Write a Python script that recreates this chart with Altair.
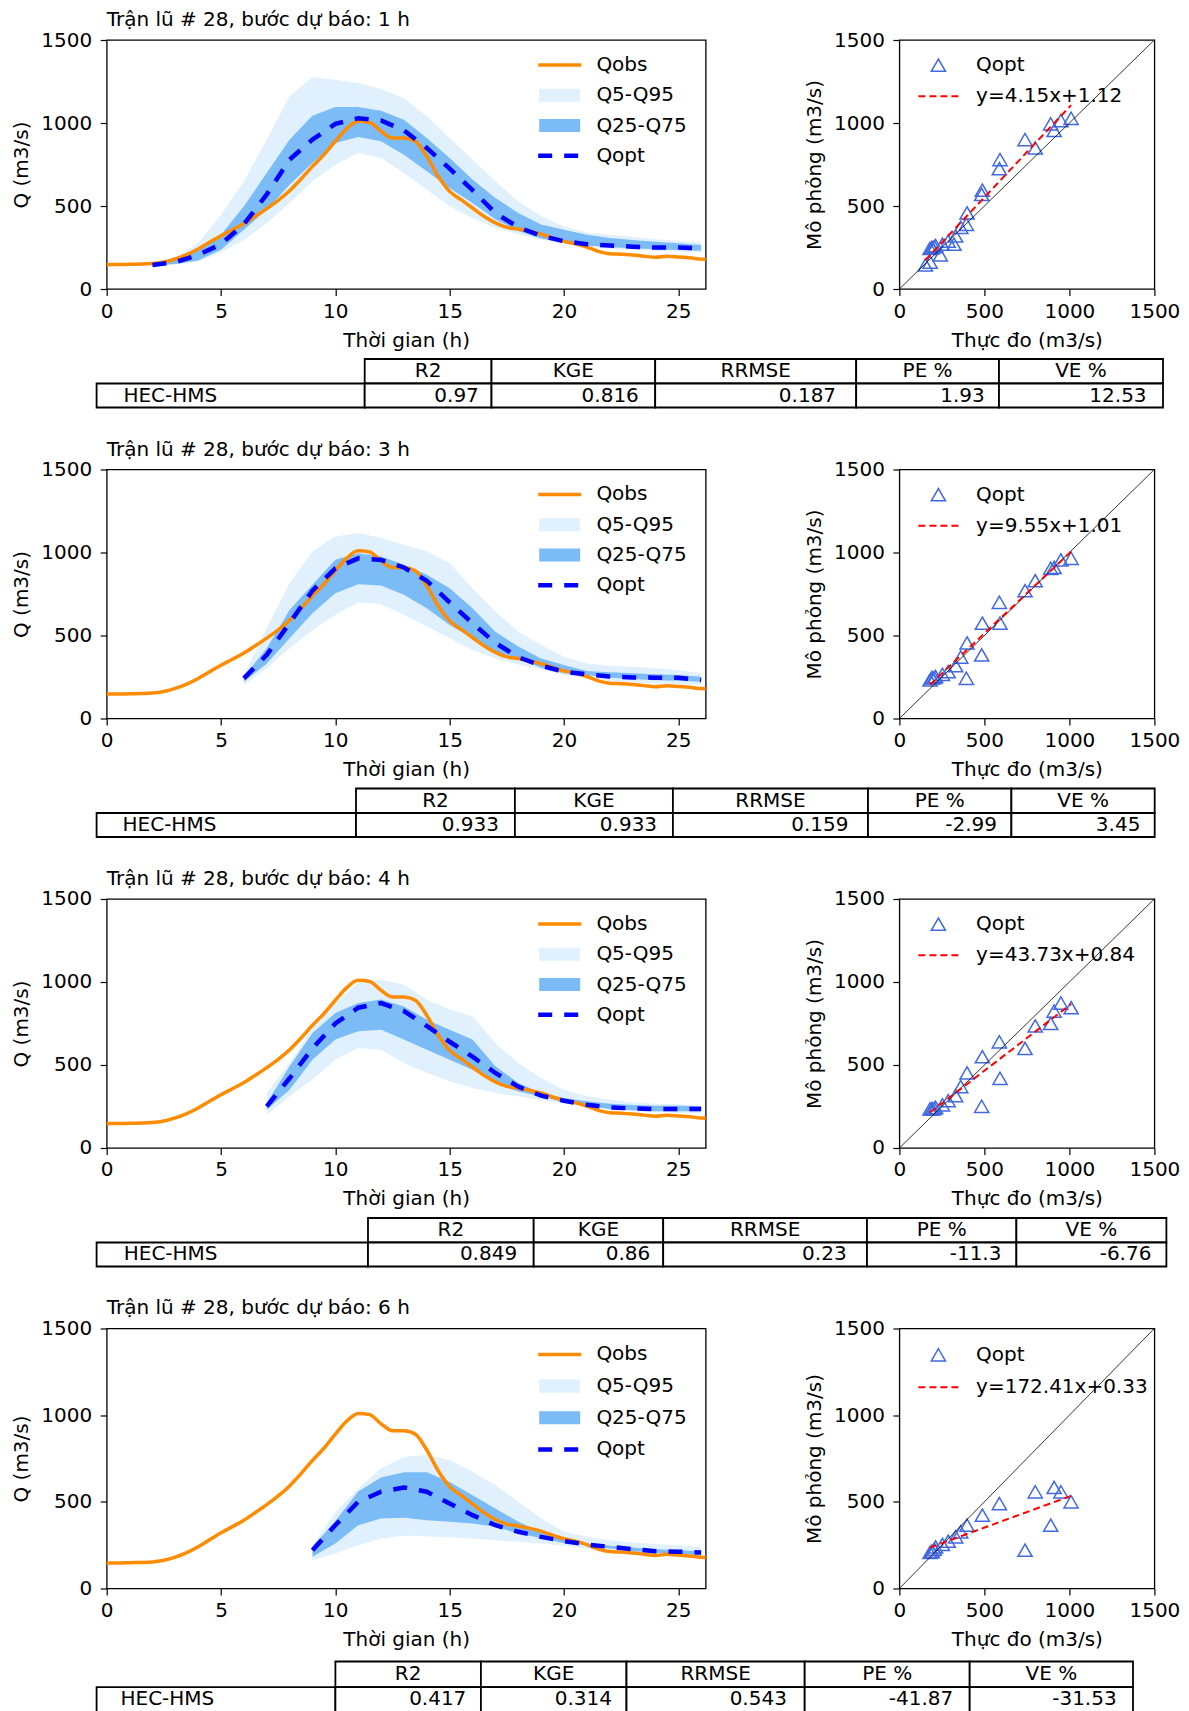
import math
import altair as alt
import pandas as pd

FONT = "DejaVu Sans"
FS = 20

# ---------------- data ----------------
EVENT = 28
LEADS = [1, 3, 4, 6]

OBS_T = [0, 0.5, 1, 1.5, 2, 2.5, 3, 3.5, 4, 4.5, 5, 5.5, 6, 6.5, 7, 7.5, 8, 8.5, 9, 9.5,
         10, 10.5, 11, 11.5, 12, 12.5, 13, 13.5, 14, 14.5, 15, 15.5, 16, 16.5, 17, 17.5,
         18, 18.5, 19, 19.5, 20, 20.5, 21, 21.5, 22, 22.5, 23, 23.5, 24, 24.5, 25, 25.5, 26, 26.2]
OBS_Q = [147, 147, 149, 150, 153, 163, 181, 207, 241, 281, 321, 357, 394, 438, 484, 534, 592, 663,
         739, 809, 890, 966, 1010, 1003, 950, 910, 910, 890, 799, 679, 588, 538, 488, 438, 398, 371,
         361, 347, 331, 307, 287, 273, 253, 227, 213, 210, 205, 198, 191, 197, 193, 188, 180, 179]

OPT_START = [2, 6, 7, 9]   # first hour of each forecast series (hourly to 26 h)

QOPT = [
    [145, 162, 205, 270, 390, 570, 780, 900, 995, 1028, 1015, 955, 850, 725, 595, 458, 372, 320, 288, 270, 262, 255, 250, 250, 245],
    [242, 383, 575, 770, 905, 965, 955, 910, 830, 700, 574, 455, 370, 318, 282, 266, 253, 247, 246, 245, 232],
    [251, 420, 600, 750, 845, 873, 825, 735, 640, 550, 452, 370, 315, 285, 260, 245, 238, 235, 235, 235],
    [221, 365, 500, 558, 583, 558, 490, 423, 365, 327, 298, 273, 254, 240, 227, 215, 212, 208],
]
Q95 = [
    [155, 190, 277, 448, 649, 900, 1161, 1275, 1261, 1241, 1205, 1151, 1040, 910, 779, 649, 528, 438, 378, 341, 327, 315, 300, 290, 280],
    [262, 544, 815, 1007, 1097, 1117, 1087, 1047, 1007, 936, 785, 644, 523, 443, 372, 332, 318, 312, 302, 292, 272],
    [331, 512, 720, 873, 994, 1014, 984, 894, 834, 793, 632, 512, 422, 351, 311, 291, 275, 267, 263, 255],
    [250, 440, 577, 692, 760, 769, 740, 673, 596, 500, 404, 327, 298, 279, 265, 256, 250, 240],
]
Q5 = [
    [138, 148, 165, 221, 293, 398, 518, 649, 749, 819, 789, 699, 598, 498, 428, 367, 330, 298, 272, 255, 243, 236, 231, 226, 221],
    [201, 302, 423, 533, 624, 700, 688, 624, 554, 483, 413, 362, 326, 298, 262, 246, 225, 217, 211, 207, 205],
    [201, 311, 412, 532, 602, 592, 512, 452, 402, 361, 331, 311, 287, 271, 251, 231, 221, 215, 211, 211],
    [163, 202, 250, 288, 304, 302, 294, 288, 279, 269, 260, 246, 231, 215, 202, 192, 188, 183],
]
Q75 = [
    [151, 181, 237, 327, 498, 699, 900, 1044, 1096, 1096, 1074, 1020, 910, 789, 659, 548, 458, 388, 357, 327, 307, 295, 285, 275, 265],
    [252, 423, 654, 805, 956, 996, 976, 926, 866, 785, 664, 523, 433, 362, 322, 286, 278, 272, 266, 262, 252],
    [271, 492, 693, 813, 873, 894, 853, 773, 713, 653, 492, 392, 331, 301, 281, 267, 259, 255, 255, 251],
    [240, 390, 560, 640, 670, 670, 615, 538, 462, 385, 327, 285, 260, 246, 237, 227, 221, 215],
]
Q25 = [
    [141, 151, 171, 237, 357, 478, 628, 759, 880, 916, 890, 809, 709, 608, 518, 420, 350, 305, 278, 262, 252, 245, 240, 235, 230],
    [221, 332, 483, 634, 755, 809, 801, 745, 664, 564, 483, 403, 362, 305, 272, 262, 246, 238, 231, 227, 221],
    [231, 351, 532, 653, 703, 713, 653, 592, 532, 472, 392, 341, 311, 275, 255, 235, 227, 221, 221, 221],
    [183, 260, 365, 404, 408, 394, 385, 375, 356, 318, 290, 262, 250, 231, 215, 206, 200, 192],
]

FIT_LABELS = ["y=4.15x+1.12", "y=9.55x+1.01", "y=43.73x+0.84", "y=172.41x+0.33"]
DIAG = [0, 1500]

MODEL = "HEC-HMS"
METRIC_NAMES = ["R2", "KGE", "RRMSE", "PE %", "VE %"]
METRICS = [
    [0.97, 0.816, 0.187, 1.93, 12.53],
    [0.933, 0.933, 0.159, -2.99, 3.45],
    [0.849, 0.86, 0.23, -11.3, -6.76],
    [0.417, 0.314, 0.543, -41.87, -31.53],
]

# ---------------- style / layout ----------------
C_OBS = "#ff8c00"
C_Q5 = "#e0f0fd"
C_Q25 = "#7bbcf7"
C_OPT = "#0000ff"
C_PT = "#4169e1"
C_FIT = "#ff0000"
RECT = "M-1,-0.32H1V0.32H-1Z"

TS_W = 599
SC_W = 255
PLOT_H = [249, 249, 249, 260]
TABLE_EDGES = [
    [-10.1, 258, 384.8, 548.5, 749.5, 892.3, 1056.3],
    [-10.1, 249.3, 408.2, 566.2, 761.3, 904.7, 1048],
    [-10.1, 261.3, 427, 556.5, 760.3, 909.7, 1059.7],
    [-10.1, 228.7, 374.2, 519.8, 698, 863, 1026.3],
]
TABLE_Y = [(70, 94.5, 118.5), (70, 94.5, 118.5), (70, 94.5, 118.5), (73, 98.6, 123.3)]
TICKS = [0, 500, 1000, 1500]


def leg(xc, yc, lx, size, sw, stype, dash=None):
    cell = max(math.ceil(math.sqrt(size) + sw), FS)
    kw = dict(orient="none", legendX=xc - cell / 2, legendY=yc - cell / 2,
              symbolType=stype, symbolSize=size, symbolStrokeWidth=sw,
              labelOffset=lx - xc - cell / 2, padding=0, title=None, labelLimit=0,
              labelFont=FONT, labelFontSize=FS, labelColor="black")
    if dash:
        kw["symbolDash"] = dash
    return alt.Legend(**kw)


def ts_chart(i):
    H = PLOT_H[i]
    hrs = list(range(OPT_START[i], 27))
    sim = pd.DataFrame({"t": hrs, "qopt": QOPT[i], "q5": Q5[i], "q95": Q95[i],
                        "q25": Q25[i], "q75": Q75[i]})
    sim["b1"] = "Q5-Q95"
    sim["b2"] = "Q25-Q75"
    sim["s"] = "Qopt"
    obs = pd.DataFrame({"t": OBS_T, "q": OBS_Q})
    obs["s"] = "Qobs"

    xs = alt.Scale(domain=[0, 26.2], nice=False, zero=False)
    ys = alt.Scale(domain=[0, 1500], nice=False)
    xax = alt.Axis(values=[0, 5, 10, 15, 20, 25], title="Thời gian (h)", format="d")
    yax = alt.Axis(values=TICKS, title="Q (m3/s)", format="d")

    def X(f):
        return alt.X(f, scale=xs, axis=xax)

    def Y(f):
        return alt.Y(f, scale=ys, axis=yax)

    SX, LX = 453, 489.7

    def yc(k):
        return H * (0.1 + 0.1217 * k)

    a5 = alt.Chart(sim).mark_area(opacity=1).encode(
        x=X("t:Q"), y=Y("q5:Q"), y2=alt.Y2("q95:Q"),
        fill=alt.Fill("b1:N", scale=alt.Scale(domain=["Q5-Q95"], range=[C_Q5]),
                      legend=leg(SX, yc(1), LX, 1681, 0, RECT)))
    a25 = alt.Chart(sim).mark_area(opacity=1).encode(
        x=X("t:Q"), y=Y("q25:Q"), y2=alt.Y2("q75:Q"),
        fill=alt.Fill("b2:N", scale=alt.Scale(domain=["Q25-Q75"], range=[C_Q25]),
                      legend=leg(SX, yc(2), LX, 1681, 0, RECT)))
    lo = alt.Chart(obs).mark_line(strokeWidth=3.5, interpolate="monotone").encode(
        x=X("t:Q"), y=Y("q:Q"),
        stroke=alt.Stroke("s:N", scale=alt.Scale(domain=["Qobs"], range=[C_OBS]),
                          legend=leg(SX, yc(0), LX, 1849, 3.5, "stroke")))
    lp = alt.Chart(sim).mark_line(strokeWidth=4.5, strokeDash=[14, 12]).encode(
        x=X("t:Q"), y=Y("qopt:Q"),
        stroke=alt.Stroke("s:N", scale=alt.Scale(domain=["Qopt"], range=[C_OPT]),
                          legend=leg(SX, yc(3), LX, 1849, 4.5, "stroke", [14, 12])))
    plot = alt.layer(a5, a25, lo, lp).resolve_scale(fill="independent", stroke="independent")

    # table drawn below the plot
    e = TABLE_EDGES[i]
    y0, y1, y2 = TABLE_Y[i]
    cells = [{"x": e[c + 1], "x2": e[c + 2], "y": y0, "y2": y1} for c in range(5)]
    cells += [{"x": e[c], "x2": e[c + 1], "y": y1, "y2": y2} for c in range(6)]
    heads = [{"x": (e[c + 1] + e[c + 2]) / 2, "y": (y0 + y1) / 2, "txt": METRIC_NAMES[c]} for c in range(5)]
    labs = [{"x": e[0] + 0.1 * (e[1] - e[0]), "y": (y1 + y2) / 2, "txt": MODEL}]
    vals = [{"x": e[c + 2] - 0.1 * (e[c + 2] - e[c + 1]), "y": (y1 + y2) / 2,
             "txt": str(METRICS[i][c])} for c in range(5)]
    tx = alt.Scale(domain=[0, TS_W], nice=False, zero=False)
    ty = alt.Scale(domain=[0, -H], nice=False, zero=False)
    rects = alt.Chart(pd.DataFrame(cells)).mark_rect(fill="white", stroke="black", strokeWidth=1.8).encode(
        x=alt.X("x:Q", scale=tx, axis=None), x2="x2:Q",
        y=alt.Y("y:Q", scale=ty, axis=None), y2="y2:Q")

    def txt(df, align):
        return alt.Chart(pd.DataFrame(df)).mark_text(
            align=align, baseline="middle", font=FONT, fontSize=FS, color="black").encode(
            x=alt.X("x:Q", scale=tx, axis=None), y=alt.Y("y:Q", scale=ty, axis=None), text="txt:N")

    table = alt.layer(rects, txt(heads, "center"), txt(labs, "left"), txt(vals, "right"))

    title = f"Trận lũ # {EVENT}, bước dự báo: {LEADS[i]} h"
    return alt.layer(plot, table).resolve_scale(x="independent", y="independent").properties(
        width=TS_W, height=H,
        title=alt.TitleParams(text=title, anchor="start", frame="group", offset=0,
                              fontSize=FS, font=FONT, fontWeight="normal", color="black"))


def sc_chart(i):
    H = PLOT_H[i]
    obs_map = dict(zip(OBS_T, OBS_Q))
    hrs = list(range(OPT_START[i], 27))
    df = pd.DataFrame({"obs": [obs_map[h] for h in hrs], "sim": QOPT[i]})
    df["lab"] = "Qopt"
    df["fit"] = FIT_LABELS[i]
    diag = pd.DataFrame({"a": DIAG, "b": DIAG})

    s = alt.Scale(domain=[0, 1500], nice=False)
    xax = alt.Axis(values=TICKS, title="Thực đo (m3/s)", format="d")
    yax = alt.Axis(values=TICKS, title="Mô phỏng (m3/s)", format="d")

    pts = alt.Chart(df).mark_point(shape="triangle-up", filled=False, size=200, strokeWidth=1.5, opacity=1).encode(
        x=alt.X("obs:Q", scale=s, axis=xax), y=alt.Y("sim:Q", scale=s, axis=yax),
        color=alt.Color("lab:N", scale=alt.Scale(domain=["Qopt"], range=[C_PT]),
                        legend=leg(39, H * 0.101, 76.7, 200, 1.5, "triangle-up")))
    dl = alt.Chart(diag).mark_line(color="black", strokeWidth=0.8).encode(
        x=alt.X("a:Q", scale=s, axis=xax), y=alt.Y("b:Q", scale=s, axis=yax))
    fit = alt.Chart(df).transform_regression("obs", "sim", groupby=["fit"]).mark_line(
        strokeWidth=2, strokeDash=[7, 4]).encode(
        x=alt.X("obs:Q", scale=s, axis=xax), y=alt.Y("sim:Q", scale=s, axis=yax),
        stroke=alt.Stroke("fit:N", scale=alt.Scale(domain=[FIT_LABELS[i]], range=[C_FIT]),
                          legend=leg(39.5, H * 0.226, 76.7, 1681, 2, "stroke", [7, 4])))
    return alt.layer(pts, dl, fit).properties(width=SC_W, height=H)


charts = []
for i in range(4):
    charts += [ts_chart(i), sc_chart(i)]

chart = alt.concat(*charts, columns=2, spacing={"row": 180.5, "column": 193.7}, bounds="flush",
                   padding={"left": 10.7, "top": 9, "right": 0, "bottom": 0}, background="white")
chart = chart.resolve_scale(color="independent", stroke="independent", fill="independent")
chart = chart.configure_view(stroke="black", strokeWidth=1.3).configure_axis(
    labelFont=FONT, labelFontSize=FS, titleFont=FONT, titleFontSize=FS, titleFontWeight="normal",
    labelColor="black", titleColor="black", tickColor="black", tickSize=6.5, tickWidth=1.2,
    labelPadding=8.5, grid=False, domain=False, labelFlush=False, labelOverlap=False
).configure_axisX(titlePadding=9, labelPadding=5.5).configure_axisY(titlePadding=9.4)

chart.save("out.html", embed_options={"renderer": "svg", "actions": False})
